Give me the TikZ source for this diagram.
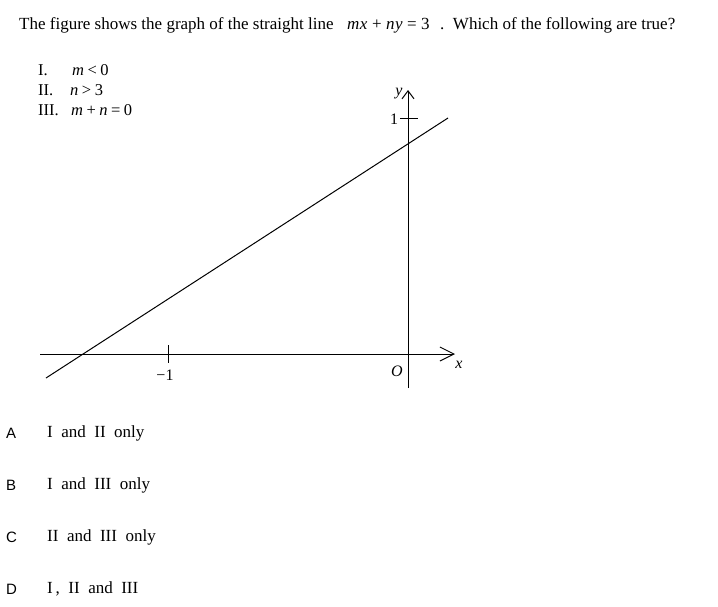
\documentclass[tikz,border=0pt]{standalone}
\usepackage{fontspec}
\setmainfont{Liberation Serif}
\newfontfamily\lettfont{Liberation Sans}
\usetikzlibrary{arrows.meta}
\begin{document}
\begin{tikzpicture}[x=1pt,y=-1pt,
  txt/.style={anchor=base west,inner sep=0pt,font=\fontsize{17}{20}\selectfont},
  itm/.style={anchor=base west,inner sep=0pt,font=\fontsize{16.5}{19}\selectfont},
  opt/.style={anchor=base west,inner sep=0pt,font=\fontsize{17}{20}\selectfont},
  lett/.style={anchor=base west,inner sep=0pt,font=\lettfont\fontsize{15}{18}\selectfont},
  ax/.style={line width=1pt},
  lbl/.style={inner sep=0pt,font=\fontsize{16}{19}\selectfont}]
\useasboundingbox (0,0) rectangle (718,606);
% header
\node[txt] (q1) at (19,29) {The figure shows the graph of the straight line};
\node[txt] (q2) at (347,29) {\itshape m\kern0.5pt x\kern4.5pt\upshape+\kern4.5pt\itshape n\kern0.5pt y\kern4.5pt\upshape=\kern4.5pt3};
\node[txt] (q3) at (440,29) {.\ \ Which of the following are true?};
% statements
\node[itm] (s1) at (38,75) {I.};
\node[itm] (s1m) at (72,75) {\itshape m\kern3.5pt\upshape<\kern3.5pt0};
\node[itm] (s2) at (38,95) {II.};
\node[itm] (s2m) at (70,95) {\itshape n\kern3.5pt\upshape>\kern3.5pt3};
\node[itm] (s3) at (38,115) {III.};
\node[itm] (s3m) at (71,115) {\itshape m\kern3.5pt\upshape+\kern3.5pt\itshape n\kern3.5pt\upshape=\kern3.5pt0};
% axes
\coordinate (xl) at (40,354);
\coordinate (xr) at (455,354);
\coordinate (yb) at (408,388);
\coordinate (yt) at (408,90);
\draw[ax,-{Straight Barb[length=14pt,width=14pt,line width=1pt]}] (xl) -- (xr);
\draw[ax,-{Straight Barb[length=8pt,width=12pt,line width=1pt]}] (yb) -- (yt);
% ticks
\coordinate (ta) at (168,345);
\coordinate (tb) at (168,363);
\draw[ax] (ta) -- (tb);
\coordinate (tc) at (400,118);
\coordinate (td) at (418,118);
\draw[ax] (tc) -- (td);
% labels
\node[lbl,anchor=base] (m1) at (165,380) {−1};
\node[lbl,anchor=base] (one) at (394,124) {1};
\node[lbl,anchor=base] (O) at (397,376) {\itshape O};
\node[lbl,anchor=base] (xlab) at (459,368) {\itshape x};
\node[lbl,anchor=base] (ylab) at (399,95) {\itshape y};
% line
\coordinate (la) at (46,378);
\coordinate (lb) at (448,118);
\draw[ax] (la) -- (lb);
% options
\node[lett] (A) at (6,438) {A};
\node[opt] (oa) at (47,437) {I\ \ and\ \ II\ \ only};
\node[lett] (B) at (6,490) {B};
\node[opt] (ob) at (47,489) {I\ \ and\ \ III\ \ only};
\node[lett] (C) at (6,542) {C};
\node[opt] (oc) at (47,541) {II\ \ and\ \ III\ \ only};
\node[lett] (D) at (6,594) {D};
\node[opt] (od) at (47,593) {I\,,\ \ II\ \ and\ \ III};
\end{tikzpicture}
\end{document}
